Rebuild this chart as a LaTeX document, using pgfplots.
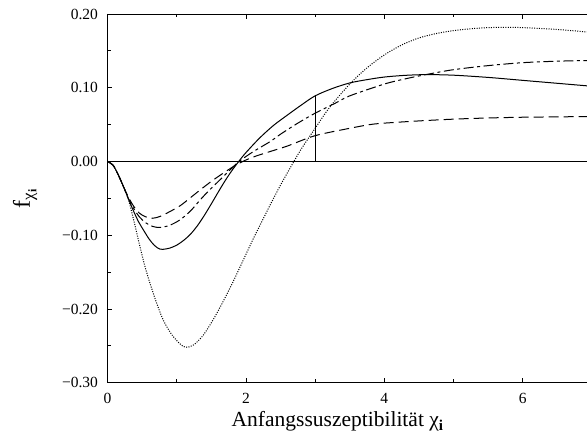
\documentclass[border=0pt]{standalone}
\usepackage{pgfplots}
\pgfplotsset{compat=1.18}
\usepackage{fontspec}
\setmainfont{Liberation Serif}
\newcommand\tl[1]{\mbox{\fontsize{15.5}{18}\selectfont #1}}
\begin{document}
\begin{tikzpicture}
\path[use as bounding box] (-107.5pt,-58.3pt) rectangle (479.5pt,382.7pt);
\begin{scope}
\clip (-107.5pt,-58.3pt) rectangle (479.5pt,382.7pt);
\begin{axis}[
  at={(0pt,0pt)}, anchor=south west,
  width=484.5pt, height=368.7pt, scale only axis,
  xmin=0, xmax=7, ymin=-0.3, ymax=0.2,
  xtick={0,2,4,6}, xticklabels={\tl{0},\tl{2},\tl{4},\tl{6}},
  minor xtick={1,3,5,7},
  ytick={-0.3,-0.2,-0.1,0,0.1,0.2},
  yticklabels={\tl{−0.30},\tl{−0.20},\tl{−0.10},\tl{0.00},\tl{0.10},\tl{0.20}},
  minor ytick={-0.25,-0.15,-0.05,0.05,0.15},
  tick align=inside,
  major tick length=5pt, minor tick length=3.5pt,
  tick style={black, line width=0.8pt},
  axis line style={line width=0.8pt},
  yticklabel style={xshift=-6pt},
  xticklabel style={yshift=-7pt},
  /pgf/number format/assume math mode=true,
  xlabel={Anfangssuszeptibilität χ\textsubscript{\textbf{i}}},
  xlabel style={at={(axis description cs:0.475,-0.12)}, anchor=base, font=\fontsize{21.5}{26}\selectfont},
  ylabel={f\textsubscript{χ\textsubscript{\textbf{i}}}},
  ylabel style={at={(axis description cs:-0.16,0.5)}, anchor=base, font=\fontsize{24}{28}\selectfont},
]
% zero line and marker at x=3
\addplot[black, line width=0.9pt] coordinates {(0,0) (7,0)};
\addplot[black, line width=0.9pt] coordinates {(3,0) (3,0.089)};

% solid
\addplot[black, line width=1pt, smooth] coordinates {
(0,0) (0.08,-0.005) (0.16,-0.019) (0.23,-0.034) (0.30,-0.050) (0.37,-0.066)
(0.45,-0.082) (0.52,-0.093) (0.60,-0.105) (0.68,-0.114) (0.76,-0.119)
(0.85,-0.1185) (0.9,-0.1175) (1.0,-0.1135) (1.1,-0.107) (1.2,-0.0985)
(1.3,-0.087) (1.4,-0.073) (1.5,-0.0575) (1.6,-0.0415) (1.7,-0.026)
(1.8,-0.012) (1.9,0.0005) (2.0,0.012) (2.2,0.032) (2.4,0.049) (2.6,0.063)
(2.8,0.0765) (3.0,0.089) (3.25,0.099) (3.5,0.1065) (3.75,0.111) (4.0,0.1145)
(4.3,0.1168) (4.61,0.1178) (5.0,0.117) (5.5,0.114) (6.0,0.110) (6.5,0.106) (7.0,0.102)
};

% long dashed
\addplot[black, line width=1pt, smooth, dash pattern=on 10pt off 5pt] coordinates {
(0,0) (0.08,-0.005) (0.16,-0.019) (0.23,-0.034) (0.30,-0.048) (0.38,-0.061)
(0.46,-0.070) (0.55,-0.075) (0.65,-0.077) (0.76,-0.0745) (0.9,-0.068)
(1.05,-0.060) (1.2,-0.049) (1.34,-0.0385) (1.5,-0.027) (1.63,-0.0185)
(1.75,-0.011) (1.87,-0.004) (2.0,0.002) (2.15,0.0075) (2.35,0.0135)
(2.6,0.021) (3.0,0.035) (3.5,0.045) (3.79,0.050) (4.0,0.052) (4.5,0.055)
(5.0,0.0574) (5.5,0.059) (6.0,0.060) (6.5,0.0605) (7.0,0.061)
};

% dash-dot
\addplot[black, line width=1pt, smooth, dash pattern=on 10pt off 3.5pt on 3pt off 3.5pt] coordinates {
(0,0) (0.08,-0.005) (0.16,-0.019) (0.23,-0.034) (0.30,-0.050) (0.38,-0.064)
(0.46,-0.075) (0.55,-0.083) (0.65,-0.088) (0.76,-0.0895) (0.9,-0.0865)
(1.05,-0.079) (1.2,-0.067) (1.34,-0.052) (1.46,-0.040) (1.58,-0.029)
(1.7,-0.018) (1.82,-0.007) (1.9,0) (2.1,0.013) (2.35,0.027) (2.5,0.037)
(2.75,0.052) (3.0,0.0655) (3.29,0.079) (3.5,0.089) (4.0,0.105) (4.3,0.112)
(4.61,0.118) (5.0,0.1245) (5.5,0.130) (6.0,0.134) (6.5,0.136) (7.0,0.137)
};

% dotted
\addplot[black, line width=1pt, smooth, dash pattern=on 1pt off 1.4pt] coordinates {
(0,0) (0.08,-0.005) (0.16,-0.019) (0.23,-0.034) (0.30,-0.051) (0.38,-0.080)
(0.46,-0.112) (0.54,-0.142) (0.62,-0.167) (0.71,-0.192) (0.81,-0.216)
(0.93,-0.235) (1.05,-0.2475) (1.13,-0.252) (1.24,-0.249) (1.38,-0.236)
(1.53,-0.214) (1.67,-0.190) (1.82,-0.162) (1.96,-0.134) (2.1,-0.106)
(2.2,-0.087) (2.35,-0.059) (2.5,-0.032) (2.65,-0.007) (2.8,0.017)
(3.0,0.045) (3.21,0.0735) (3.5,0.105) (3.75,0.127) (4.0,0.1445)
(4.25,0.158) (4.5,0.1675) (4.75,0.1735) (5.0,0.1775) (5.25,0.180)
(5.5,0.1815) (5.75,0.182) (6.0,0.1815) (6.5,0.179) (7.0,0.175)
};
\end{axis}
\end{scope}
\end{tikzpicture}
\end{document}
